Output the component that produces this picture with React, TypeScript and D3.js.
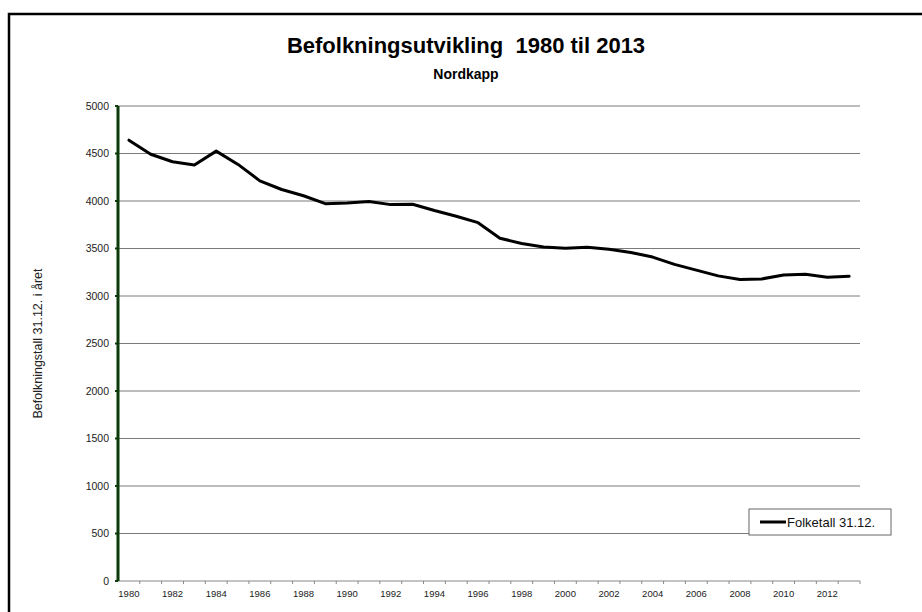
import React, {useRef, useEffect} from 'react';
import * as d3 from 'd3';

const width = 922;
const height = 612;

const years = d3.range(1980, 2014).map(String);
const population = [
  4640, 4492, 4413, 4378, 4525, 4385, 4212, 4121, 4055, 3972,
  3978, 3995, 3962, 3966, 3900, 3840, 3772, 3608, 3553, 3516,
  3503, 3513, 3492, 3458, 3410, 3333, 3272, 3212, 3174, 3180,
  3220, 3228, 3198, 3207,
];
const yTicks = [0, 500, 1000, 1500, 2000, 2500, 3000, 3500, 4000, 4500, 5000];

const title = 'Befolkningsutvikling  1980 til 2013';
const subtitle = 'Nordkapp';
const yLabel = 'Befolkningstall 31.12. i året';
const seriesName = 'Folketall 31.12.';

const margin = {left: 118, right: 62, top: 106, bottom: 31};
const font = 'Arial, "Liberation Sans", sans-serif';

const drawChart = (el: SVGSVGElement) => {
  const svg = d3.select(el);
  svg.selectAll('*').remove();

  const x = d3
  .scaleBand()
  .domain(years)
  .range([margin.left, width - margin.right]);
  const y = d3
  .scaleLinear()
  .domain([0, 5000])
  .range([height - margin.bottom, margin.top]);

  // outer frame
  svg
  .append('rect')
  .attr('x', 9)
  .attr('y', 14)
  .attr('width', width + 10)
  .attr('height', height)
  .attr('fill', 'white')
  .attr('stroke', 'black')
  .attr('stroke-width', 2.5);

  svg
  .append('text')
  .attr('x', 466)
  .attr('y', 53)
  .attr('text-anchor', 'middle')
  .attr('font-family', font)
  .attr('font-weight', 'bold')
  .attr('font-size', 22)
  .attr('xml:space', 'preserve')
  .style('white-space', 'pre')
  .text(title);

  svg
  .append('text')
  .attr('x', 466)
  .attr('y', 79)
  .attr('text-anchor', 'middle')
  .attr('font-family', font)
  .attr('font-weight', 'bold')
  .attr('font-size', 14)
  .text(subtitle);

  // gridlines
  svg
  .append('g')
  .selectAll('line')
  .data(yTicks.filter(d => d > 0))
  .enter()
  .append('line')
  .attr('x1', margin.left)
  .attr('x2', width - margin.right)
  .attr('y1', d => y(d))
  .attr('y2', d => y(d))
  .attr('stroke', '#7a7a7a')
  .attr('stroke-width', 1);

  // x axis
  const xAxis = svg
  .append('g')
  .attr('transform', `translate(0, ${y(0)})`);
  xAxis
  .append('line')
  .attr('x1', margin.left)
  .attr('x2', width - margin.right)
  .attr('stroke', '#888')
  .attr('stroke-width', 1.2);
  xAxis
  .selectAll('line.tick')
  .data(years)
  .enter()
  .append('line')
  .attr('class', 'tick')
  .attr('x1', d => (x(d) as number) + x.bandwidth())
  .attr('x2', d => (x(d) as number) + x.bandwidth())
  .attr('y2', 3)
  .attr('stroke', '#888');
  xAxis
  .selectAll('text')
  .data(years.filter((d, i) => i % 2 === 0))
  .enter()
  .append('text')
  .attr('x', d => (x(d) as number) + x.bandwidth() / 2)
  .attr('y', 16)
  .attr('text-anchor', 'middle')
  .attr('font-family', font)
  .attr('font-size', 9.5)
  .attr('fill', '#222')
  .text(d => d);

  // y axis
  const yAxis = svg.append('g');
  yAxis
  .append('line')
  .attr('x1', margin.left)
  .attr('x2', margin.left)
  .attr('y1', y(5000))
  .attr('y2', y(0))
  .attr('stroke', '#0b3a0b')
  .attr('stroke-width', 3);
  yAxis
  .selectAll('rect')
  .data(yTicks)
  .enter()
  .append('rect')
  .attr('x', margin.left - 3)
  .attr('y', d => y(d) - 1)
  .attr('width', 3)
  .attr('height', 2)
  .attr('fill', '#0b3a0b');
  yAxis
  .selectAll('text')
  .data(yTicks)
  .enter()
  .append('text')
  .attr('x', margin.left - 9)
  .attr('y', d => y(d))
  .attr('dy', '0.35em')
  .attr('text-anchor', 'end')
  .attr('font-family', font)
  .attr('font-size', 10.5)
  .attr('fill', '#222')
  .text(d => d);

  svg
  .append('text')
  .attr('transform', `translate(42, ${(y(0) + y(5000)) / 2}) rotate(-90)`)
  .attr('text-anchor', 'middle')
  .attr('font-family', font)
  .attr('font-size', 12.5)
  .attr('fill', '#222')
  .text(yLabel);

  // series
  const line = d3
  .line<number>()
  .x((d, i) => (x(years[i]) as number) + x.bandwidth() / 2)
  .y(d => y(d));

  svg
  .append('path')
  .datum(population)
  .attr('d', line)
  .attr('fill', 'none')
  .attr('stroke', 'black')
  .attr('stroke-width', 3)
  .attr('stroke-linejoin', 'round')
  .attr('stroke-linecap', 'round');

  // legend
  const legend = svg.append('g').attr('transform', 'translate(749, 509)');
  legend
  .append('rect')
  .attr('width', 142)
  .attr('height', 26)
  .attr('fill', 'white')
  .attr('stroke', '#666');
  legend
  .append('line')
  .attr('x1', 11)
  .attr('x2', 37)
  .attr('y1', 13)
  .attr('y2', 13)
  .attr('stroke', 'black')
  .attr('stroke-width', 3);
  legend
  .append('text')
  .attr('x', 38)
  .attr('y', 13)
  .attr('dy', '0.35em')
  .attr('font-family', font)
  .attr('font-size', 13)
  .attr('fill', '#111')
  .text(seriesName);
};

export default function App() {
  const svgRef = useRef<SVGSVGElement>(null);
  useEffect(() => {
    if (svgRef.current) drawChart(svgRef.current);
  }, []);
  return (
    <svg
      ref={svgRef}
      width={width}
      height={height}
      style={{position: 'absolute', left: 0, top: 0, display: 'block'}}
    />
  );
}
